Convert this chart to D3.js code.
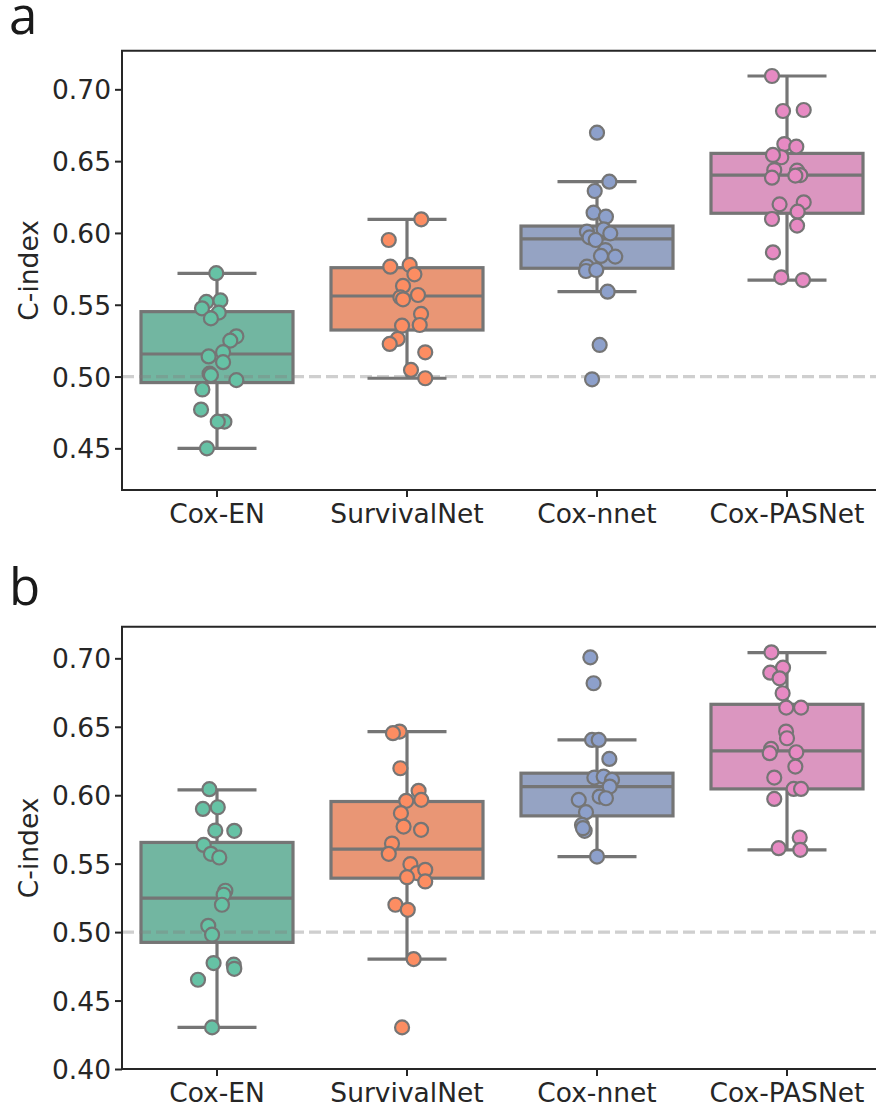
<!DOCTYPE html>
<html>
<head>
<meta charset="utf-8">
<script src="https://cdn.jsdelivr.net/npm/d3@7"></script>
<style>
  html, body { margin: 0; padding: 0; background: #fff; }
  svg { display: block; }
</style>
</head>
<body>
<svg id="chart" width="876" height="1108"></svg>
<script>
// Models compared
const categories = ["Cox-EN", "SurvivalNet", "Cox-nnet", "Cox-PASNet"];

// Panel a: C-index per run, and strip jitter (category units)
const coxEN_a = [0.572, 0.552, 0.553, 0.5475, 0.5445, 0.5405, 0.528, 0.525, 0.517, 0.514, 0.510, 0.502, 0.501, 0.4975, 0.491, 0.477, 0.4686, 0.4686, 0.450];
const coxEN_a_jit = [-0.004, -0.056, 0.018, -0.079, 0.009, -0.032, 0.102, 0.070, 0.032, -0.044, 0.032, -0.039, -0.032, 0.102, -0.077, -0.084, 0.039, 0.004, -0.053];
const survNet_a = [0.6095, 0.5951, 0.5765, 0.5777, 0.5712, 0.5631, 0.5552, 0.5568, 0.5538, 0.5436, 0.5359, 0.5354, 0.5262, 0.5227, 0.5169, 0.5046, 0.4988];
const survNet_a_jit = [0.075, -0.096, -0.088, 0.014, 0.039, -0.021, -0.035, 0.058, -0.021, 0.074, 0.067, -0.026, -0.049, -0.091, 0.096, 0.021, 0.096];
const coxNnet_a = [0.6698, 0.6357, 0.6292, 0.6141, 0.6113, 0.6009, 0.6025, 0.5997, 0.5969, 0.5951, 0.5881, 0.5840, 0.5835, 0.5765, 0.5735, 0.5742, 0.5591, 0.5220, 0.4981];
const coxNnet_a_jit = [0, 0.065, -0.012, -0.018, 0.047, -0.053, 0.035, 0.070, -0.039, -0.007, 0.044, 0.021, 0.096, -0.053, -0.058, -0.004, 0.056, 0.014, -0.026];
const coxPAS_a = [0.7093, 0.6849, 0.6856, 0.6619, 0.6601, 0.6527, 0.6543, 0.6438, 0.6434, 0.6403, 0.6385, 0.6399, 0.6199, 0.6213, 0.6148, 0.6097, 0.6051, 0.5865, 0.5691, 0.5672];
const coxPAS_a_jit = [-0.079, -0.021, 0.088, -0.014, 0.049, -0.030, -0.074, -0.067, 0.053, 0.070, -0.079, 0.044, -0.039, 0.088, 0.056, -0.079, 0.053, -0.074, -0.030, 0.084];

// Panel a box summaries: [lower whisker, Q1, median, Q3, upper whisker]
const boxA = [
  [0.450, 0.4958, 0.5157, 0.5452, 0.5719],
  [0.4988, 0.5324, 0.5561, 0.5758, 0.6095],
  [0.5591, 0.5754, 0.5958, 0.6048, 0.6357],
  [0.5672, 0.6137, 0.6403, 0.6554, 0.7093]
];

// Panel b
const coxEN_b = [0.6044, 0.590, 0.5912, 0.5742, 0.5740, 0.5637, 0.5572, 0.5545, 0.5302, 0.5273, 0.5200, 0.5046, 0.4981, 0.4774, 0.4762, 0.4732, 0.4652, 0.4304];
const coxEN_b_jit = [-0.040, -0.074, 0.004, -0.009, 0.091, -0.070, -0.032, 0.012, 0.044, 0.035, 0.026, -0.046, -0.026, -0.018, 0.088, 0.091, -0.100, -0.026];
const survNet_b = [0.6465, 0.6453, 0.6197, 0.6032, 0.5966, 0.5959, 0.5869, 0.5771, 0.5747, 0.5647, 0.5572, 0.5496, 0.5431, 0.5455, 0.5401, 0.5370, 0.5200, 0.5163, 0.4803, 0.4304];
const survNet_b_jit = [-0.039, -0.074, -0.035, 0.061, 0.075, -0.004, -0.032, -0.018, 0.074, -0.079, -0.096, 0.018, 0.053, 0.096, 0, 0.096, -0.061, 0.004, 0.035, -0.026];
const coxNnet_b = [0.7007, 0.6818, 0.6404, 0.6404, 0.6265, 0.6129, 0.6136, 0.6112, 0.6063, 0.5990, 0.5978, 0.5966, 0.5876, 0.5783, 0.5740, 0.5759, 0.5552];
const coxNnet_b_jit = [-0.035, -0.018, -0.026, 0.009, 0.065, -0.014, 0.035, 0.079, 0.067, 0.014, 0.047, -0.096, -0.058, -0.079, -0.065, -0.074, 0];
const coxPAS_b = [0.7044, 0.6932, 0.6895, 0.6854, 0.6745, 0.6640, 0.6640, 0.6465, 0.6416, 0.6338, 0.6307, 0.6314, 0.6209, 0.6129, 0.6046, 0.6046, 0.5973, 0.5691, 0.5613, 0.5601];
const coxPAS_b_jit = [-0.082, -0.021, -0.088, -0.039, -0.023, -0.004, 0.074, -0.005, 0, -0.084, -0.091, 0.049, 0.044, -0.067, 0.035, 0.074, -0.067, 0.067, -0.044, 0.070];

const boxB = [
  [0.4304, 0.4925, 0.5248, 0.5655, 0.6039],
  [0.4803, 0.5394, 0.5606, 0.5954, 0.6465],
  [0.5552, 0.5849, 0.6063, 0.6161, 0.6404],
  [0.5601, 0.6046, 0.6324, 0.6664, 0.7041]
];

// Axis ticks and chance level
const ticksA = [0.45, 0.50, 0.55, 0.60, 0.65, 0.70];
const ticksB = [0.40, 0.45, 0.50, 0.55, 0.60, 0.65, 0.70];
const chance = 0.50;

const palette = d3.schemeSet2.slice(0, 4);
const boxFill = palette.map(c => { const h = d3.hsl(c); h.s *= 0.75; return h.formatHex(); });
const lineGray = "#757575";
const ink = "#262626";
const font = "'DejaVu Sans', sans-serif";

const svg = d3.select("#chart");

function panel(cfg) {
  const { letter, top, bottom, domain, ticks, values, jitters, boxes } = cfg;
  const left = 122, right = 882;
  const x = d3.scaleBand().domain(categories).range([left, right]).padding(0);
  const y = d3.scaleLinear().domain(domain).range([bottom, top]);
  const bw = x.bandwidth();
  const g = svg.append("g");

  // boxes with whiskers and medians
  categories.forEach((cat, i) => {
    const [lo, q1, med, q3, hi] = boxes[i];
    const cx = x(cat) + bw / 2;
    const half = bw * 0.4;
    const gb = g.append("g").attr("stroke", lineGray).attr("stroke-width", 3.2);
    gb.append("line").attr("x1", cx).attr("x2", cx).attr("y1", y(q3)).attr("y2", y(hi));
    gb.append("line").attr("x1", cx).attr("x2", cx).attr("y1", y(q1)).attr("y2", y(lo));
    gb.append("line").attr("x1", cx - half / 2 - 1.5).attr("x2", cx + half / 2 + 1.5).attr("y1", y(hi)).attr("y2", y(hi));
    gb.append("line").attr("x1", cx - half / 2 - 1.5).attr("x2", cx + half / 2 + 1.5).attr("y1", y(lo)).attr("y2", y(lo));
    gb.append("rect").attr("x", cx - half).attr("width", half * 2)
      .attr("y", y(q3)).attr("height", y(q1) - y(q3))
      .attr("fill", boxFill[i]);
    gb.append("line").attr("x1", cx - half).attr("x2", cx + half).attr("y1", y(med)).attr("y2", y(med));
  });

  // chance level
  g.append("line")
    .attr("x1", left).attr("x2", right)
    .attr("y1", y(chance)).attr("y2", y(chance))
    .attr("stroke", "#808080").attr("stroke-opacity", 0.38)
    .attr("stroke-width", 3.2).attr("stroke-dasharray", "12,5");

  // individual runs
  categories.forEach((cat, i) => {
    const pts = values[i].map((v, k) => ({ v, j: jitters[i][k] }));
    g.append("g").selectAll("circle").data(pts).join("circle")
      .attr("cx", d => x(cat) + bw / 2 + d.j * bw)
      .attr("cy", d => y(d.v))
      .attr("r", 7)
      .attr("fill", palette[i])
      .attr("stroke", lineGray)
      .attr("stroke-width", 2.2);
  });

  // axes
  const yAxis = d3.axisLeft(y).tickValues(ticks).tickFormat(d3.format(".2f")).tickSize(7).tickPadding(4);
  const ya = g.append("g").attr("transform", `translate(${left},0)`).call(yAxis);
  const xAxis = d3.axisBottom(x).tickSize(7).tickPadding(6);
  const xa = g.append("g").attr("transform", `translate(0,${bottom})`).call(xAxis);
  [ya, xa].forEach(a => {
    a.select(".domain").remove();
    a.selectAll(".tick line").attr("stroke", ink).attr("stroke-width", 2);
    a.selectAll(".tick text").attr("fill", ink).attr("font-family", font).attr("font-size", 26.5);
  });
  ya.selectAll(".tick text").attr("dy", "0.36em");
  xa.selectAll(".tick text").attr("dy", "0.74em");

  // spines (left, top, bottom)
  g.append("path")
    .attr("d", `M${right},${top}H${left}V${bottom}H${right}`)
    .attr("fill", "none").attr("stroke", ink).attr("stroke-width", 2);

  // y label
  g.append("text")
    .attr("transform", `translate(38,${(top + bottom) / 2}) rotate(-90)`)
    .attr("text-anchor", "middle")
    .attr("font-family", font).attr("font-size", 26.5).attr("fill", ink)
    .text("C-index");

  // panel letter
  svg.append("text")
    .attr("x", 9).attr("y", cfg.letterY)
    .attr("font-family", "'Open Sans', sans-serif").attr("font-size", 51).attr("fill", "#1a1a1a")
    .text(letter);
}

panel({
  letter: "a", letterY: 34, top: 50.7, bottom: 490, domain: [0.421, 0.7269], ticks: ticksA,
  values: [coxEN_a, survNet_a, coxNnet_a, coxPAS_a],
  jitters: [coxEN_a_jit, survNet_a_jit, coxNnet_a_jit, coxPAS_a_jit],
  boxes: boxA
});
panel({
  letter: "b", letterY: 605, top: 626.7, bottom: 1069, domain: [0.40, 0.7231], ticks: ticksB,
  values: [coxEN_b, survNet_b, coxNnet_b, coxPAS_b],
  jitters: [coxEN_b_jit, survNet_b_jit, coxNnet_b_jit, coxPAS_b_jit],
  boxes: boxB
});
</script>
</body>
</html>
